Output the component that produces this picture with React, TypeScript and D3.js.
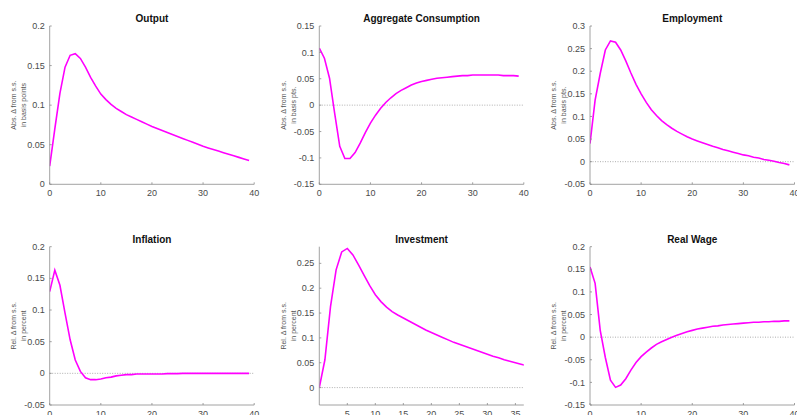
import React from "react";
import * as d3 from "d3";

const periods = d3.range(0, 40);

const outputVals = [0.023,0.070,0.115,0.148,0.163,0.165,0.159,0.148,0.135,0.124,0.114,0.107,0.101,0.096,0.092,0.088,0.085,0.082,0.079,0.076,0.073,0.0705,0.068,0.0655,0.063,0.0605,0.058,0.0555,0.053,0.0505,0.048,0.046,0.044,0.042,0.040,0.038,0.036,0.034,0.032,0.030];
const consumptionVals = [0.108,0.089,0.051,-0.015,-0.078,-0.101,-0.101,-0.090,-0.072,-0.052,-0.034,-0.019,-0.006,0.005,0.014,0.022,0.028,0.033,0.038,0.042,0.045,0.047,0.049,0.051,0.052,0.053,0.054,0.055,0.056,0.056,0.057,0.057,0.057,0.057,0.057,0.057,0.056,0.056,0.056,0.055];
const employmentVals = [0.040,0.136,0.195,0.247,0.267,0.264,0.247,0.223,0.196,0.171,0.150,0.131,0.115,0.102,0.091,0.082,0.074,0.067,0.061,0.055,0.050,0.046,0.042,0.038,0.034,0.031,0.027,0.024,0.021,0.018,0.015,0.013,0.010,0.008,0.005,0.003,0.001,-0.002,-0.004,-0.007];
const inflationVals = [0.129,0.163,0.139,0.095,0.053,0.021,0.003,-0.007,-0.010,-0.010,-0.009,-0.007,-0.006,-0.004,-0.003,-0.002,-0.002,-0.001,-0.001,-0.001,-0.001,-0.001,-0.001,-0.0005,-0.0005,-0.0005,0,0,0,0,0,0,0,0,0,0,0,0,0,0];
const investmentVals = [0,0.056,0.163,0.237,0.273,0.280,0.267,0.247,0.226,0.205,0.187,0.173,0.162,0.153,0.146,0.140,0.134,0.128,0.122,0.116,0.111,0.106,0.101,0.096,0.091,0.087,0.083,0.079,0.075,0.071,0.067,0.063,0.060,0.056,0.053,0.050,0.047,0.044,0.041,0.038];
const realWageVals = [0.155,0.119,0.015,-0.045,-0.095,-0.111,-0.106,-0.092,-0.073,-0.056,-0.043,-0.033,-0.024,-0.016,-0.010,-0.005,0.000,0.004,0.008,0.012,0.015,0.018,0.020,0.022,0.024,0.025,0.027,0.028,0.029,0.030,0.031,0.032,0.033,0.033,0.034,0.034,0.035,0.035,0.036,0.036];

const titles = ["Output", "Aggregate Consumption", "Employment", "Inflation", "Investment", "Real Wage"];
const yLabels = [
  ["Abs. \u0394 from s.s.", "in basis points"],
  ["Abs. \u0394 from s.s.", "in basis pts."],
  ["Abs. \u0394 from s.s.", "in basis pts."],
  ["Rel. \u0394 from s.s.", "in percent"],
  ["Rel. \u0394 from s.s.", "in percent"],
  ["Rel. \u0394 from s.s.", "in percent"],
];
const yDomains: [number, number][] = [[0, 0.2], [-0.15, 0.15], [-0.05, 0.3], [-0.05, 0.2], [-0.035, 0.2835], [-0.15, 0.2]];
const yTickVals = [
  [0, 0.05, 0.1, 0.15, 0.2],
  [-0.15, -0.1, -0.05, 0, 0.05, 0.1, 0.15],
  [-0.05, 0, 0.05, 0.1, 0.15, 0.2, 0.25, 0.3],
  [-0.05, 0, 0.05, 0.1, 0.15, 0.2],
  [0, 0.05, 0.1, 0.15, 0.2, 0.25],
  [-0.15, -0.1, -0.05, 0, 0.05, 0.1, 0.15, 0.2],
];
const xDomains: [number, number][] = [[0, 40], [0, 40], [0, 40], [0, 40], [0, 36.5], [0, 40]];
const xTickVals = [
  [0, 10, 20, 30, 40],
  [0, 10, 20, 30, 40],
  [0, 10, 20, 30, 40],
  [0, 10, 20, 30, 40],
  [5, 10, 15, 20, 25, 30, 35],
  [0, 10, 20, 30, 40],
];
const showZeroLine = [false, true, true, true, true, true];
const seriesList = [outputVals, consumptionVals, employmentVals, inflationVals, investmentVals, realWageVals];

const colLefts = [49.7, 319.3, 590];
const rowTops = [26, 246.7];
const plotW = 204.5;
const plotH = 158.3;

const fmt = (v: number) => {
  const s = String(Math.round(v * 1000) / 1000);
  return s;
};

function Panel({ idx }: { idx: number }) {
  const left = colLefts[idx % 3];
  const top = rowTops[Math.floor(idx / 3)];
  const x = d3.scaleLinear().domain(xDomains[idx]).range([0, plotW]);
  const y = d3.scaleLinear().domain(yDomains[idx]).range([plotH, 0]);
  const data = periods.map((t, i) => [t, seriesList[idx][i]] as [number, number]);
  const line = d3.line<[number, number]>().x((d) => x(d[0])).y((d) => y(d[1]));
  const clipId = `clip-${idx}`;
  const axisColor = "#8a8a8a";
  const textColor = "#4a4a4a";
  return (
    <g transform={`translate(${left},${top})`}>
      <defs>
        <clipPath id={clipId}>
          <rect x={0} y={-2} width={plotW} height={plotH + 4} />
        </clipPath>
      </defs>
      <text x={plotW / 2} y={-4} textAnchor="middle" fontSize={10} fontWeight="bold" fill="#111">
        {titles[idx]}
      </text>
      {showZeroLine[idx] && (
        <line x1={0} x2={plotW} y1={y(0)} y2={y(0)} stroke="#999" strokeWidth={0.8} strokeDasharray="1,1.5" />
      )}
      <path d={line(data) || ""} fill="none" stroke="#ff00ff" strokeWidth={1.6} clipPath={`url(#${clipId})`} />
      {/* axes */}
      <line x1={0} x2={0} y1={0} y2={plotH} stroke={axisColor} strokeWidth={0.8} />
      <line x1={0} x2={plotW} y1={plotH} y2={plotH} stroke={axisColor} strokeWidth={0.8} />
      {yTickVals[idx].map((v) => (
        <g key={`y${v}`}>
          <line x1={0} x2={2} y1={y(v)} y2={y(v)} stroke={axisColor} strokeWidth={0.8} />
          <text x={-5} y={y(v)} dy="0.35em" textAnchor="end" fontSize={9} fill={textColor}>
            {fmt(v)}
          </text>
        </g>
      ))}
      {xTickVals[idx].map((v) => (
        <g key={`x${v}`}>
          <line x1={x(v)} x2={x(v)} y1={plotH} y2={plotH - 2} stroke={axisColor} strokeWidth={0.8} />
          <text x={x(v)} y={plotH + 12} textAnchor="middle" fontSize={9} fill={textColor}>
            {fmt(v)}
          </text>
        </g>
      ))}
      <g transform={`translate(${-36},${plotH / 2}) rotate(-90)`}>
        <text x={0} y={0} dy="0.35em" textAnchor="middle" fontSize={7} fill="#555">
          {yLabels[idx][0]}
        </text>
        <text x={0} y={10} dy="0.35em" textAnchor="middle" fontSize={7} fill="#555">
          {yLabels[idx][1]}
        </text>
      </g>
    </g>
  );
}

export default function App() {
  return (
    <svg
      width={797}
      height={415}
      style={{ position: "absolute", left: 0, top: 0, background: "#fff" }}
      fontFamily="'Liberation Sans', Arial, Helvetica, sans-serif"
    >
      <rect width={797} height={415} fill="#fff" />
      {titles.map((_, i) => (
        <Panel key={i} idx={i} />
      ))}
    </svg>
  );
}
